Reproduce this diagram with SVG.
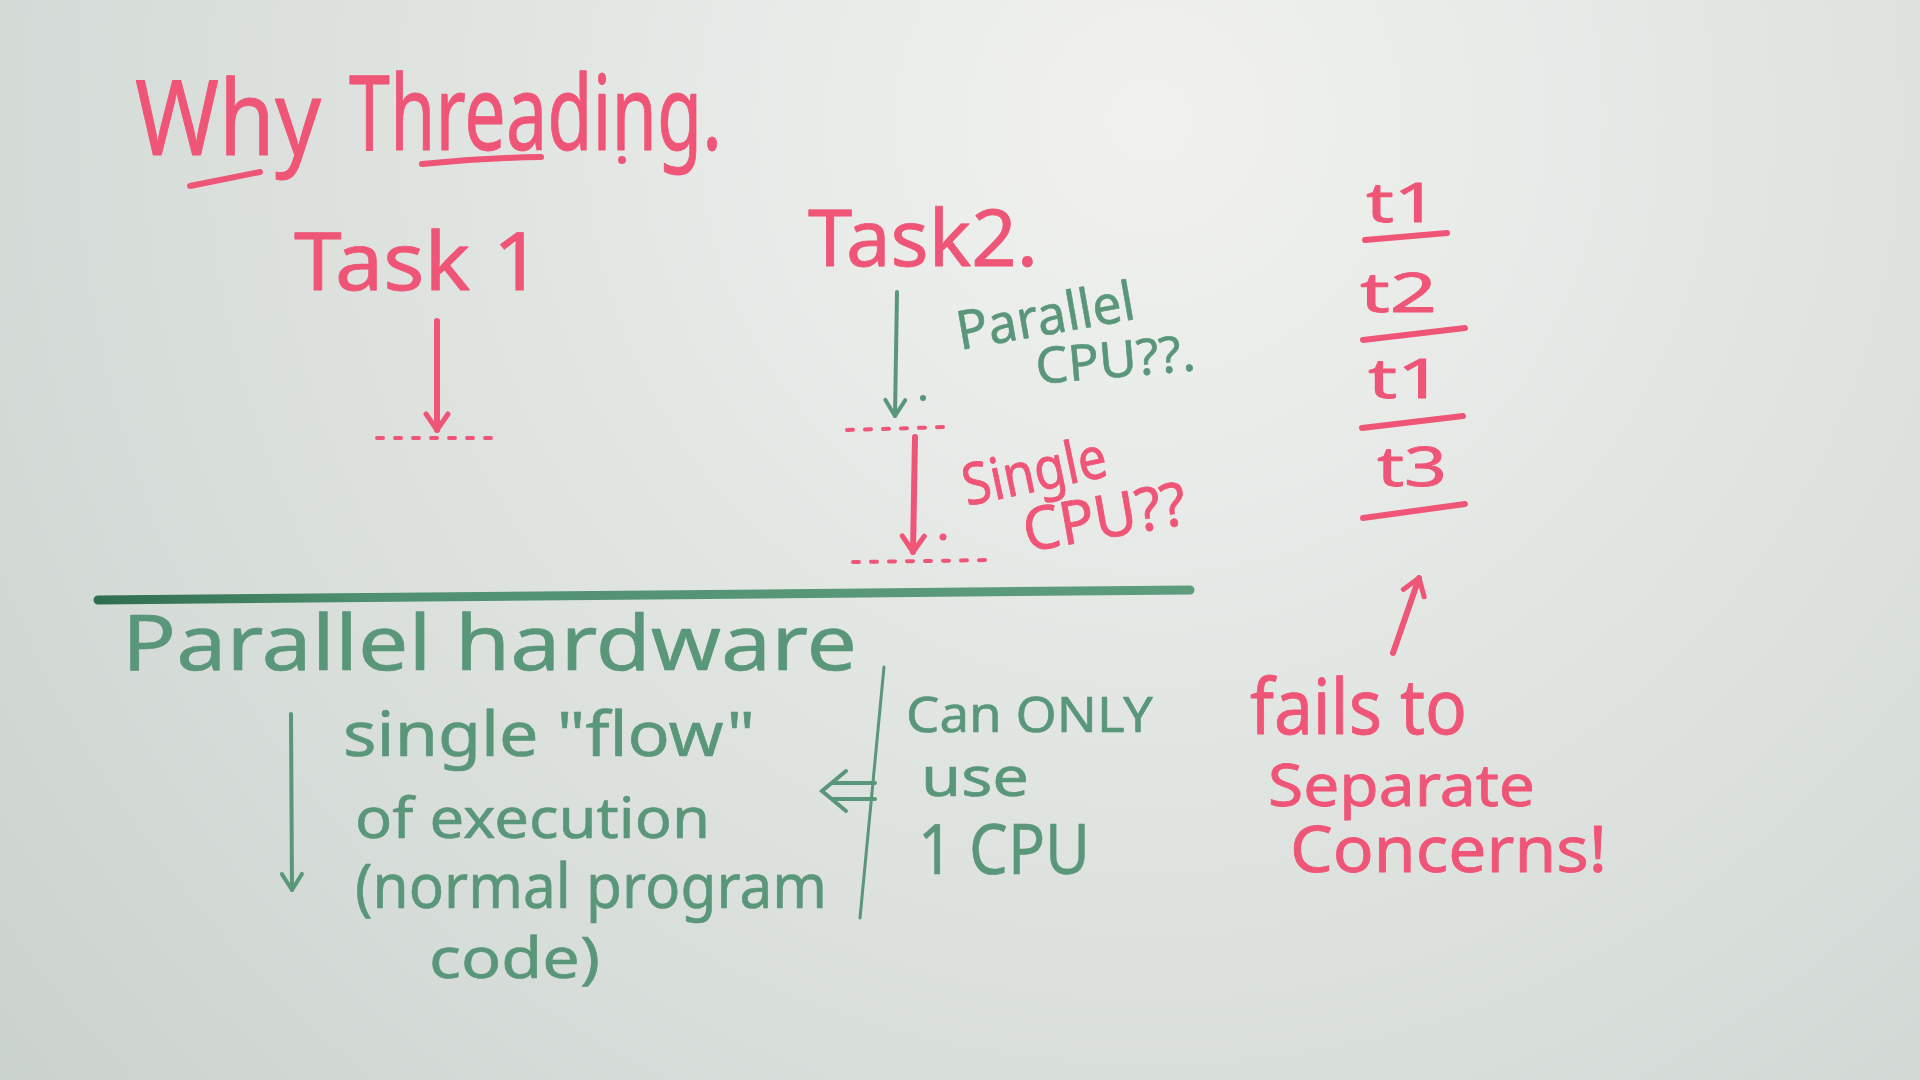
<svg xmlns="http://www.w3.org/2000/svg" width="1920" height="1080" viewBox="0 0 1920 1080">
  <defs>
    <radialGradient id="board" cx="1150" cy="120" r="1750" gradientUnits="userSpaceOnUse">
      <stop offset="0" stop-color="#f1f2f0"/>
      <stop offset="0.35" stop-color="#e2e6e3"/>
      <stop offset="0.75" stop-color="#d0d7d3"/>
      <stop offset="1" stop-color="#c3ccc8"/>
    </radialGradient>
    <linearGradient id="rule" x1="0" y1="0" x2="1" y2="0">
      <stop offset="0" stop-color="#2f6e50"/>
      <stop offset="0.25" stop-color="#4f9070"/>
      <stop offset="1" stop-color="#5e9c7e"/>
    </linearGradient>
    <marker id="head-red" markerUnits="userSpaceOnUse" markerWidth="40" markerHeight="40" refX="0" refY="0" orient="auto" overflow="visible">
      <path d="M-16,-11 L0,0 L-16,11" fill="none" stroke="#ef5577" stroke-width="5" stroke-linecap="round" stroke-linejoin="round"/>
    </marker>
    <marker id="head-green" markerUnits="userSpaceOnUse" markerWidth="40" markerHeight="40" refX="0" refY="0" orient="auto" overflow="visible">
      <path d="M-16,-10 L0,0 L-16,10" fill="none" stroke="#5a967a" stroke-width="4" stroke-linecap="round" stroke-linejoin="round"/>
    </marker>
  </defs>
  <style>
    text { font-family: "Noto Sans", "DejaVu Sans", sans-serif; stroke-linejoin: round; }
    .red { fill: #ef5577; stroke: #ef5577; stroke-width: 0.8; }
    .green { fill: #5a967a; stroke: #5a967a; stroke-width: 0.6; }
    .ink-red { fill: none; stroke: #ef5577; stroke-width: 6; stroke-linecap: round; }
    .ink-green { fill: none; stroke: #5a967a; stroke-width: 4; stroke-linecap: round; }
    .dots-red { fill: none; stroke: #ef5577; stroke-width: 4; stroke-linecap: round; stroke-dasharray: 6 12; }
  </style>

  <rect x="0" y="0" width="1920" height="1080" fill="url(#board)"/>

  <!-- heading -->
  <g id="title">
    <text class="red" x="135" y="155" font-size="104" textLength="186" lengthAdjust="spacingAndGlyphs">Why</text>
    <text class="red" x="349" y="150" font-size="104" textLength="373" lengthAdjust="spacingAndGlyphs">Threading.</text>
    <path class="ink-red" d="M190,186 L260,172"/>
    <path class="ink-red" d="M422,164 Q480,158 541,157"/>
    <circle cx="622" cy="160" r="4" fill="#ef5577"/>
  </g>

  <!-- first task -->
  <g id="task1">
    <text class="red" x="294" y="290" font-size="80" textLength="248" lengthAdjust="spacingAndGlyphs">Task 1</text>
    <path class="dots-red" d="M377,438 L492,438"/>
  </g>

  <!-- second task with its two cases -->
  <g id="task2">
    <text class="red" x="808" y="266" font-size="78" textLength="230" lengthAdjust="spacingAndGlyphs">Task2.</text>
    <text class="green" x="960" y="350" font-size="54" textLength="180" lengthAdjust="spacingAndGlyphs" transform="rotate(-10 960 350)">Parallel</text>
    <text class="green" x="1037" y="384" font-size="50" textLength="160" lengthAdjust="spacingAndGlyphs" transform="rotate(-5 1037 384)">CPU??.</text>
    <path class="dots-red" d="M847,430 L947,427"/>
    <text class="red" x="967" y="506" font-size="58" textLength="146" lengthAdjust="spacingAndGlyphs" transform="rotate(-12 967 506)">Single</text>
    <text class="red" x="1027" y="552" font-size="60" textLength="165" lengthAdjust="spacingAndGlyphs" transform="rotate(-10 1027 552)">CPU??</text>
    <path class="dots-red" d="M853,562 L993,560"/>
  </g>

  <!-- time slices -->
  <g id="timeline">
    <text class="red" x="1366" y="222" font-size="54" textLength="72" lengthAdjust="spacingAndGlyphs">t1</text>
    <path class="ink-red" d="M1365,240 L1447,233"/>
    <text class="red" x="1360" y="312" font-size="54" textLength="77" lengthAdjust="spacingAndGlyphs">t2</text>
    <path class="ink-red" d="M1363,340 L1465,328"/>
    <text class="red" x="1368" y="398" font-size="54" textLength="75" lengthAdjust="spacingAndGlyphs">t1</text>
    <path class="ink-red" d="M1362,428 L1463,416"/>
    <text class="red" x="1377" y="486" font-size="54" textLength="70" lengthAdjust="spacingAndGlyphs">t3</text>
    <path class="ink-red" d="M1363,518 L1465,504"/>
  </g>

  <!-- verdict on time slicing -->
  <g id="note">
    <text class="red" x="1250" y="734" font-size="76" textLength="217" lengthAdjust="spacingAndGlyphs">fails to</text>
    <text class="red" x="1268" y="806" font-size="58" textLength="267" lengthAdjust="spacingAndGlyphs">Separate</text>
    <text class="red" x="1290" y="872" font-size="64" textLength="317" lengthAdjust="spacingAndGlyphs">Concerns!</text>
  </g>

  <!-- lower half: hardware -->
  <g id="hardware">
    <path d="M98,600 L1190,590" fill="none" stroke="url(#rule)" stroke-width="9" stroke-linecap="round"/>
    <text class="green" x="122" y="670" font-size="76" textLength="735" lengthAdjust="spacingAndGlyphs">Parallel hardware</text>
  </g>

  <g id="flow">
    <text class="green" x="343" y="756" font-size="62" textLength="412" lengthAdjust="spacingAndGlyphs">single "flow"</text>
    <text class="green" x="355" y="838" font-size="56" textLength="355" lengthAdjust="spacingAndGlyphs">of execution</text>
    <text class="green" x="355" y="908" font-size="62" textLength="472" lengthAdjust="spacingAndGlyphs">(normal program</text>
    <text class="green" x="429" y="978" font-size="56" textLength="171" lengthAdjust="spacingAndGlyphs">code)</text>
  </g>

  <g id="limit">
    <path d="M884,667 L860,918" fill="none" stroke="#5a967a" stroke-width="3" stroke-linecap="round"/>
    <text class="green" x="906" y="732" font-size="50" textLength="247" lengthAdjust="spacingAndGlyphs">Can ONLY</text>
    <text class="green" x="921" y="796" font-size="54" textLength="108" lengthAdjust="spacingAndGlyphs">use</text>
    <text class="green" x="918" y="874" font-size="70" textLength="172" lengthAdjust="spacingAndGlyphs">1 CPU</text>
  </g>

  <!-- connectors -->
  <g id="connectors">
    <path class="ink-red" stroke-width="5" d="M437,321 L437,430" marker-end="url(#head-red)"/>
    <path class="ink-green" d="M897,292 L895,416" marker-end="url(#head-green)"/>
    <circle cx="923" cy="398" r="3" fill="#5a967a"/>
    <path class="ink-red" stroke-width="5" d="M915,437 L913,552" marker-end="url(#head-red)"/>
    <circle cx="943" cy="537" r="3.5" fill="#ef5577"/>
    <path class="ink-red" stroke-width="5" d="M1393,653 L1419,578" marker-end="url(#head-red)"/>
    <path class="ink-green" d="M291,714 L292,890" marker-end="url(#head-green)"/>
    <!-- double-shafted arrow pointing left -->
    <path class="ink-green" stroke-width="5" d="M875,783 L832,783 M875,799 L832,799 M846,771 L822,791 L846,811"/>
  </g>
</svg>
